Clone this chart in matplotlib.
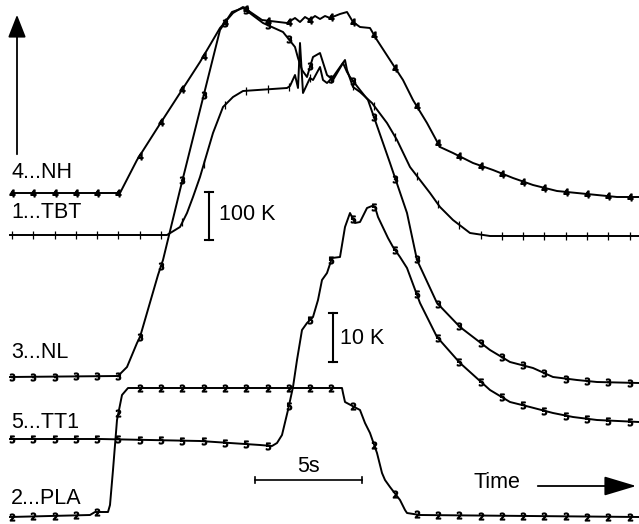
import numpy as np
import matplotlib.pyplot as plt

# traces (x = time in chart px, y = trace level in chart px, down = lower)
nh_t = [12, 120, 137, 158, 180, 200, 220, 233, 243, 262, 287, 295, 300, 305, 310, 315, 320, 325, 330,
        340, 347, 353, 360, 370, 377, 390, 403, 413, 427, 440, 453, 473, 493, 513, 533, 557, 577, 597, 617, 639]
nh_y = [193, 193, 160, 127, 93, 62, 28, 13, 7, 20, 23, 18, 22, 17, 20, 16, 19, 16, 18,
        14, 12, 22, 27, 28, 40, 60, 80, 100, 123, 147, 153, 163, 170, 178, 185, 191, 193, 195, 197, 197]

tbt_t = [10, 167, 180, 187, 193, 200, 213, 223, 233, 243, 287, 290, 295, 298, 300, 303, 310, 313, 320, 323,
         327, 333, 340, 345, 347, 353, 360, 372, 387, 397, 410, 430, 440, 453, 470, 490, 639]
tbt_y = [235, 235, 227, 213, 197, 177, 133, 107, 97, 91, 88, 86, 75, 88, 43, 93, 78, 80, 67, 80,
         83, 77, 67, 60, 70, 87, 92, 103, 123, 140, 167, 193, 207, 220, 233, 236, 236]

nl_t = [10, 118, 127, 137, 140, 158, 163, 180, 200, 220, 232, 243, 263, 283, 295, 298, 302, 307, 313, 320,
        327, 333, 343, 347, 350, 360, 368, 390, 407, 417, 437, 460, 490, 510, 533, 553, 577, 597, 639]
nl_y = [377, 376, 367, 343, 337, 275, 260, 190, 110, 30, 12, 8, 23, 32, 47, 58, 70, 77, 57, 53,
        75, 80, 63, 72, 77, 90, 100, 163, 213, 260, 303, 327, 350, 362, 368, 377, 380, 382, 383]

tt1_t = [10, 100, 150, 200, 230, 260, 272, 277, 282, 288, 293, 297, 302, 307, 313, 318, 322, 327, 332, 340,
         345, 350, 355, 360, 367, 372, 375, 378, 388, 393, 400, 407, 420, 437, 460, 490, 510, 530, 553, 573, 597, 639]
tt1_y = [439, 439, 440, 441, 443, 445, 446, 443, 435, 410, 387, 360, 330, 323, 317, 300, 280, 273, 258, 257,
         227, 213, 223, 222, 208, 206, 207, 217, 238, 247, 257, 268, 303, 337, 363, 390, 402, 407, 413, 417, 420, 422]

pla_t = [10, 90, 95, 108, 110, 113, 117, 122, 128, 342, 343, 345, 360, 365, 370, 377, 382, 385, 390,
         400, 405, 407, 420, 639]
pla_y = [517, 515, 512, 512, 505, 470, 420, 395, 388, 388, 393, 402, 410, 423, 433, 453, 473, 480, 487,
         500, 510, 513, 515, 517]

tick_times = np.arange(12, 640, 21.3)

fig = plt.figure(figsize=(6.39, 5.24), dpi=100)
ax = fig.add_axes([0, 0, 1, 1])
ax.set_xlim(0, 639)
ax.set_ylim(524, 0)
ax.axis('off')

traces = [
    (nh_t, nh_y, '$4$', 5),
    (tbt_t, tbt_y, '|', 6),
    (nl_t, nl_y, '$3$', 5),
    (tt1_t, tt1_y, '$5$', 5),
    (pla_t, pla_y, '$2$', 5),
]
for t, y, mk, ms in traces:
    ax.plot(t, y, c='black', lw=1.4, solid_joinstyle='round')
    ty = np.interp(tick_times, t, y)
    ax.plot(tick_times, ty, ls='none', marker=mk, ms=ms, c='black', mew=0.9)

fs = 15.5
font = 'Liberation Sans'
labels = [('4...NH', 172), ('1...TBT', 212), ('3...NL', 352), ('5...TT1', 423), ('2...PLA', 499)]
for txt, yy in labels:
    ax.text(11, yy, txt, fontsize=fs, va='center', ha='left', family=font)

# scale bars
ax.plot([209, 209], [192, 240], c='black', lw=1.5)
ax.plot([205, 213], [192, 192], c='black', lw=1.5)
ax.plot([205, 213], [240, 240], c='black', lw=1.5)
ax.text(219, 215, '100 K', fontsize=fs, va='center', family=font)

ax.plot([333, 333], [313, 362], c='black', lw=1.5)
ax.plot([329, 337], [313, 313], c='black', lw=1.5)
ax.plot([329, 337], [362, 362], c='black', lw=1.5)
ax.text(340, 338, '10 K', fontsize=fs, va='center', family=font)

ax.plot([255, 362], [480, 480], c='black', lw=1.2)
ax.plot([255, 255], [477, 483], c='black', lw=1.2)
ax.plot([362, 362], [477, 483], c='black', lw=1.2)
ax.text(308, 467, '5s', fontsize=fs, va='center', ha='center', family=font)

# axis arrows
ax.annotate('', xy=(17, 12), xytext=(17, 157),
            arrowprops=dict(arrowstyle='-|>,head_length=1.4,head_width=0.55', color='black', lw=1.3))
ax.text(474, 483, 'Time', fontsize=fs, va='center', ha='left', family=font)
ax.annotate('', xy=(639, 486), xytext=(535, 486),
            arrowprops=dict(arrowstyle='-|>,head_length=2.0,head_width=0.6', color='black', lw=1.3))

fig.savefig('out.png', dpi=100)
